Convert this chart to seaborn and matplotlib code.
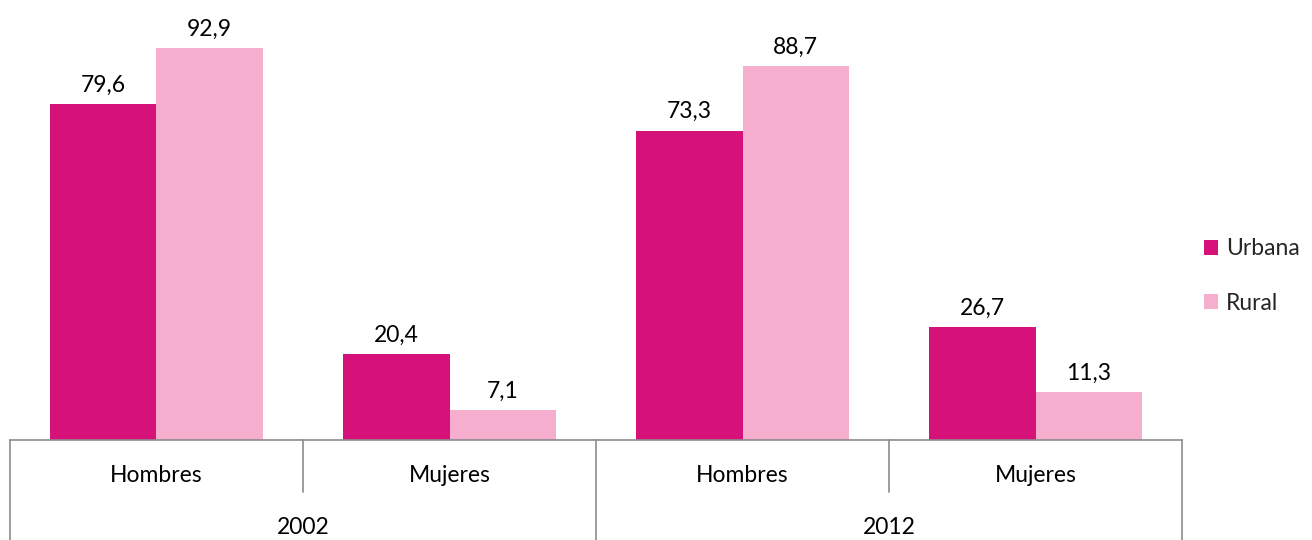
import matplotlib
matplotlib.use("Agg")
import matplotlib.pyplot as plt
import matplotlib.transforms as mtransforms
from matplotlib.patches import Patch
import seaborn as sns
import pandas as pd

# data
years = ["2002", "2012"]
sexes = ["Hombres", "Mujeres"]
areas = ["Urbana", "Rural"]
urbana = [79.6, 20.4, 73.3, 26.7]
rural = [92.9, 7.1, 88.7, 11.3]

colors = {"Urbana": "#D6127A", "Rural": "#F5AECE"}
grid_col = "#8C8C8C"
fs = 16.5

cats = [y + " " + s for y in years for s in sexes]
df = pd.DataFrame({
    "cat": cats * 2,
    "area": ["Urbana"] * 4 + ["Rural"] * 4,
    "valor": urbana + rural,
})

sns.set_theme(style="white")
plt.rcParams["font.family"] = ["Lato", "DejaVu Sans"]

fig = plt.figure(figsize=(13.12, 5.4), dpi=100)
ax = fig.add_axes([10 / 1312, 100 / 540, 1172 / 1312, 422 / 540])

sns.barplot(data=df, x="cat", y="valor", hue="area", order=cats,
            hue_order=areas, palette=colors, width=0.724, gap=0,
            saturation=1, linewidth=0, ax=ax, legend=False)

ax.set_xlim(-0.5, 3.5)
ax.set_ylim(0, 100)
ax.set_xlabel("")
ax.set_ylabel("")
ax.set_yticks([])
ax.set_xticks([])
for s in ["top", "right", "left"]:
    ax.spines[s].set_visible(False)
ax.spines["bottom"].set_color(grid_col)
ax.spines["bottom"].set_linewidth(1.2)

for cont in ax.containers:
    ax.bar_label(cont, labels=[f"{v:.1f}".replace(".", ",") for v in cont.datavalues],
                 padding=6, fontsize=fs, color="#000000")

# two-level category axis
trans = mtransforms.blended_transform_factory(ax.transData, ax.transAxes)
short = -52 / 422
long_ = -100 / 422
for i, c in enumerate(cats):
    ax.text(i, -36 / 422, c.split(" ")[1], transform=trans, ha="center",
            va="center", fontsize=fs, color="#000000")
for j, y in enumerate(years):
    ax.text(2 * j + 0.5, -87 / 422, y, transform=trans, ha="center",
            va="center", fontsize=fs, color="#000000")
for xb in [-0.5, 0.5, 1.5, 2.5, 3.5]:
    depth = long_ if xb in (-0.5, 1.5, 3.5) else short
    ax.plot([xb, xb], [0, depth], transform=trans, color=grid_col,
            lw=1.2, clip_on=False)

handles = [Patch(facecolor=colors[a], edgecolor="none", label=a) for a in areas]
fig.legend(handles=handles, loc="center left", bbox_to_anchor=(1204 / 1312, 264 / 540),
           frameon=False, fontsize=fs, handlelength=0.6, handleheight=0.6,
           handletextpad=0.35, labelspacing=1.45, borderaxespad=0, borderpad=0)

fig.savefig("out.png", dpi=100)
